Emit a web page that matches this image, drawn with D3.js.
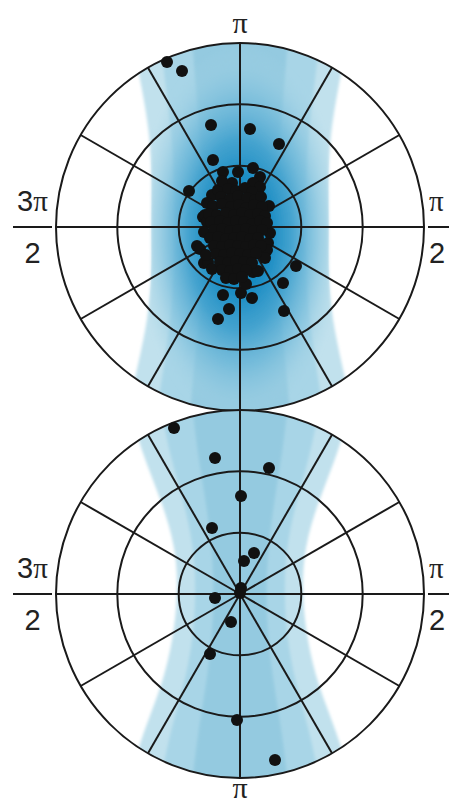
<!DOCTYPE html>
<html>
<head>
<meta charset="utf-8">
<script src="https://cdn.jsdelivr.net/npm/d3@7"></script>
<style>
  html, body { margin: 0; padding: 0; background: #fff; }
  svg { display: block; }
</style>
</head>
<body>
<script>
// ---- data -------------------------------------------------------------
// Polar grid: three rings and twelve spokes (degrees, clockwise from top)
const ringLevels = [61.3, 122.7, 184];
const spokeAngles = [0, 30, 60, 90, 120, 150, 180, 210, 240, 270, 300, 330];

// Angle labels at the rim of each disc: [numeral, pi, denominator]
const upperLabels = { top: ["", "π"], left: ["3", "π", "2"], right: ["", "π", "2"] };
const lowerLabels = { bottom: ["", "π"], left: ["3", "π", "2"], right: ["", "π", "2"] };

// Density bands: half-width of each band at the given heights (plot units, y up)
const bandRows = [190, 138, 92, 46, 0, -46, -92, -138, -190];
const upperBandOuter = [108, 98, 90, 88, 89, 88, 92, 102, 114];
const upperBandMid   = [80, 74, 68, 66, 66, 66, 69, 76, 84];
const upperBandInner = [48, 44, 40, 38, 38, 38, 40, 46, 50];
const lowerBandOuter = [112, 97, 78, 64, 62, 67, 78, 97, 112];
const lowerBandMid   = [80, 70, 56, 46, 44, 47, 56, 70, 80];
const lowerBandInner = [48, 42, 34, 28, 26, 28, 34, 42, 48];

// Observations (x, y) in plot units, y up
const upperSpread = [
  [-73, 165], [-58, 156], [-29, 102], [10, 98], [39, 83], [-27, 67], [-51, 36],
  [56, -39], [43, -56], [44, -84], [-22, -92], [-11, -82], [-17, -68], [12, -71],
  [1, -66], [6, -57], [13, -45], [-36, -36], [-32, -35], [-43, -19], [-37, 10],
  [-17, 55], [-2, 55], [13, 59], [20, 50], [-8, 44], [13, 44], [28, -16],
  [27, -23], [18, -26], [-35, 12], [-33, 5], [-40, -22], [-28, 32], [-22, 37],
  [-33, 24], [29, 21], [30, -6], [-36, -5], [25, -31], [-28, -42], [-34, -28],
  [20, 40], [-18, 46], [18, -44]
];
const upperCluster = [
  [-12, 38], [-4, 36], [5, 39], [12, 35],
  [-19, 30], [-10, 28], [-2, 31], [7, 29], [15, 27], [21, 30],
  [-27, 21], [-18, 23], [-9, 20], [-1, 22], [6, 19], [14, 22], [22, 20],
  [-31, 13], [-23, 12], [-14, 14], [-6, 12], [2, 14], [10, 12], [18, 13], [25, 11],
  [-29, 5], [-20, 6], [-12, 4], [-4, 6], [4, 5], [12, 3], [20, 6], [27, 4],
  [-26, -3], [-18, -2], [-10, -4], [-2, -3], [6, -2], [14, -4], [22, -3],
  [-30, -11], [-22, -10], [-14, -12], [-6, -11], [2, -10], [10, -12], [18, -11],
  [-26, -19], [-18, -20], [-10, -18], [-2, -19], [6, -20], [14, -18], [21, -19],
  [-24, -27], [-16, -28], [-8, -26], [0, -27], [8, -28], [16, -26],
  [-20, -35], [-12, -36], [-4, -34], [4, -35], [12, -36],
  [-18, -43], [-10, -44], [-2, -42], [6, -43],
  [-14, -51], [-6, -52], [2, -50]
];
const lowerPoints = [
  [-66, 166], [-25, 136], [29, 126], [1, 98], [-28, 66], [14, 41], [4, 33],
  [1, 6], [0, 1], [-25, -4], [-9, -28], [-30, -60], [-3, -126], [35, -166]
];

// ---- drawing ----------------------------------------------------------
const W = 449, H = 806, R = 184;
const svg = d3.select("body").append("svg").attr("width", W).attr("height", H);
const defs = svg.append("defs");

defs.append("filter").attr("id", "soft")
  .attr("x", "-10%").attr("y", "-10%").attr("width", "120%").attr("height", "120%")
  .append("feGaussianBlur").attr("stdDeviation", 1.4);

const core = defs.append("radialGradient").attr("id", "core");
[
  [0, "#0a7fb9", 1], [0.3, "#1a8cc3", 1], [0.5, "#3d9fcd", 0.92],
  [0.7, "#6db8d9", 0.7], [0.88, "#98cde2", 0.35], [1, "#a8d5e6", 0]
].forEach(([o, c, a]) => core.append("stop")
  .attr("offset", o).attr("stop-color", c).attr("stop-opacity", a));

const bandColors = ["#c1e1ed", "#a8d5e7", "#94cae0"];
const ink = "#1a1a1a";
const sans = "'Liberation Sans', Arial, sans-serif";
const serif = "'Liberation Serif', 'Times New Roman', serif";

const plots = [
  { id: "upper", cx: 240, cy: 227, labels: upperLabels,
    bands: [upperBandOuter, upperBandMid, upperBandInner],
    points: upperSpread.concat(upperCluster), core: true },
  { id: "lower", cx: 240, cy: 594, labels: lowerLabels,
    bands: [lowerBandOuter, lowerBandMid, lowerBandInner],
    points: lowerPoints, core: false }
];

plots.forEach(p => {
  const x = d3.scaleLinear().domain([-R, R]).range([p.cx - R, p.cx + R]);
  const y = d3.scaleLinear().domain([-R, R]).range([p.cy + R, p.cy - R]);
  const r = d3.scaleLinear().domain([0, R]).range([0, R]);

  defs.append("clipPath").attr("id", "clip-" + p.id)
    .append("circle").attr("cx", x(0)).attr("cy", y(0)).attr("r", r(R));

  const g = svg.append("g");
  const shade = g.append("g").attr("clip-path", `url(#clip-${p.id})`);

  // nested density bands
  const band = d3.area()
    .y(d => y(d.v)).x0(d => x(-d.hw)).x1(d => x(d.hw))
    .curve(d3.curveBasis);
  const bandPath = hw => band(bandRows.map((v, k) => ({ v, hw: hw[k] })));
  p.bands.forEach((hw, i) => {
    shade.append("path")
      .attr("d", bandPath(hw))
      .attr("fill", bandColors[i])
      .attr("filter", "url(#soft)");
  });

  // concentrated density core, kept inside the outer band
  if (p.core) {
    defs.append("clipPath").attr("id", "band-" + p.id)
      .append("path").attr("d", bandPath(p.bands[0]));
    shade.append("g").attr("clip-path", `url(#band-${p.id})`)
      .append("ellipse")
      .attr("cx", x(0)).attr("cy", y(-8))
      .attr("rx", r(104)).attr("ry", r(190))
      .attr("fill", "url(#core)")
      .attr("filter", "url(#soft)");
  }

  // rings
  g.selectAll("circle.ring").data(ringLevels).join("circle")
    .attr("class", "ring")
    .attr("cx", x(0)).attr("cy", y(0)).attr("r", d => r(d))
    .attr("fill", "none").attr("stroke", ink).attr("stroke-width", 2);

  // spokes
  const rad = a => a * Math.PI / 180;
  g.selectAll("line.spoke").data(spokeAngles).join("line")
    .attr("class", "spoke")
    .attr("x1", x(0)).attr("y1", y(0))
    .attr("x2", a => x(R * Math.sin(rad(a))))
    .attr("y2", a => y(R * Math.cos(rad(a))))
    .attr("stroke", ink).attr("stroke-width", 2);

  // observations
  g.selectAll("circle.obs").data(p.points).join("circle")
    .attr("class", "obs")
    .attr("cx", d => x(d[0])).attr("cy", d => y(d[1]))
    .attr("r", 6).attr("fill", "#111");

  // labels: a sans numeral followed by a serif pi
  const lab = (tx, ty, parts, anchor, size = 29) => {
    const t = g.append("text")
      .attr("x", tx).attr("y", ty).attr("text-anchor", anchor)
      .attr("font-size", size).attr("fill", "#222");
    if (parts[0]) t.append("tspan").attr("font-family", sans).text(parts[0]);
    t.append("tspan").attr("font-family", serif).text(parts[1]);
    return t;
  };
  const num = (tx, ty, s, anchor) => g.append("text")
    .attr("x", tx).attr("y", ty).attr("text-anchor", anchor)
    .attr("font-family", sans).attr("font-size", 29).attr("fill", "#222").text(s);

  if (p.labels.top) lab(x(0), y(R) - 10, p.labels.top, "middle", 30);
  if (p.labels.bottom) lab(x(0), y(-R) + 20, p.labels.bottom, "middle", 30);

  const lx = 32.5;
  lab(lx, y(0) - 16, p.labels.left.slice(0, 2), "middle");
  num(lx, y(0) + 36, p.labels.left[2], "middle");
  g.append("line").attr("x1", 13).attr("x2", 52).attr("y1", y(0)).attr("y2", y(0))
    .attr("stroke", ink).attr("stroke-width", 2);

  lab(429, y(0) - 16, p.labels.right.slice(0, 2), "start");
  num(429, y(0) + 36, p.labels.right[2], "start");
  g.append("line").attr("x1", 428).attr("x2", 470).attr("y1", y(0)).attr("y2", y(0))
    .attr("stroke", ink).attr("stroke-width", 2);
});
</script>
</body>
</html>
